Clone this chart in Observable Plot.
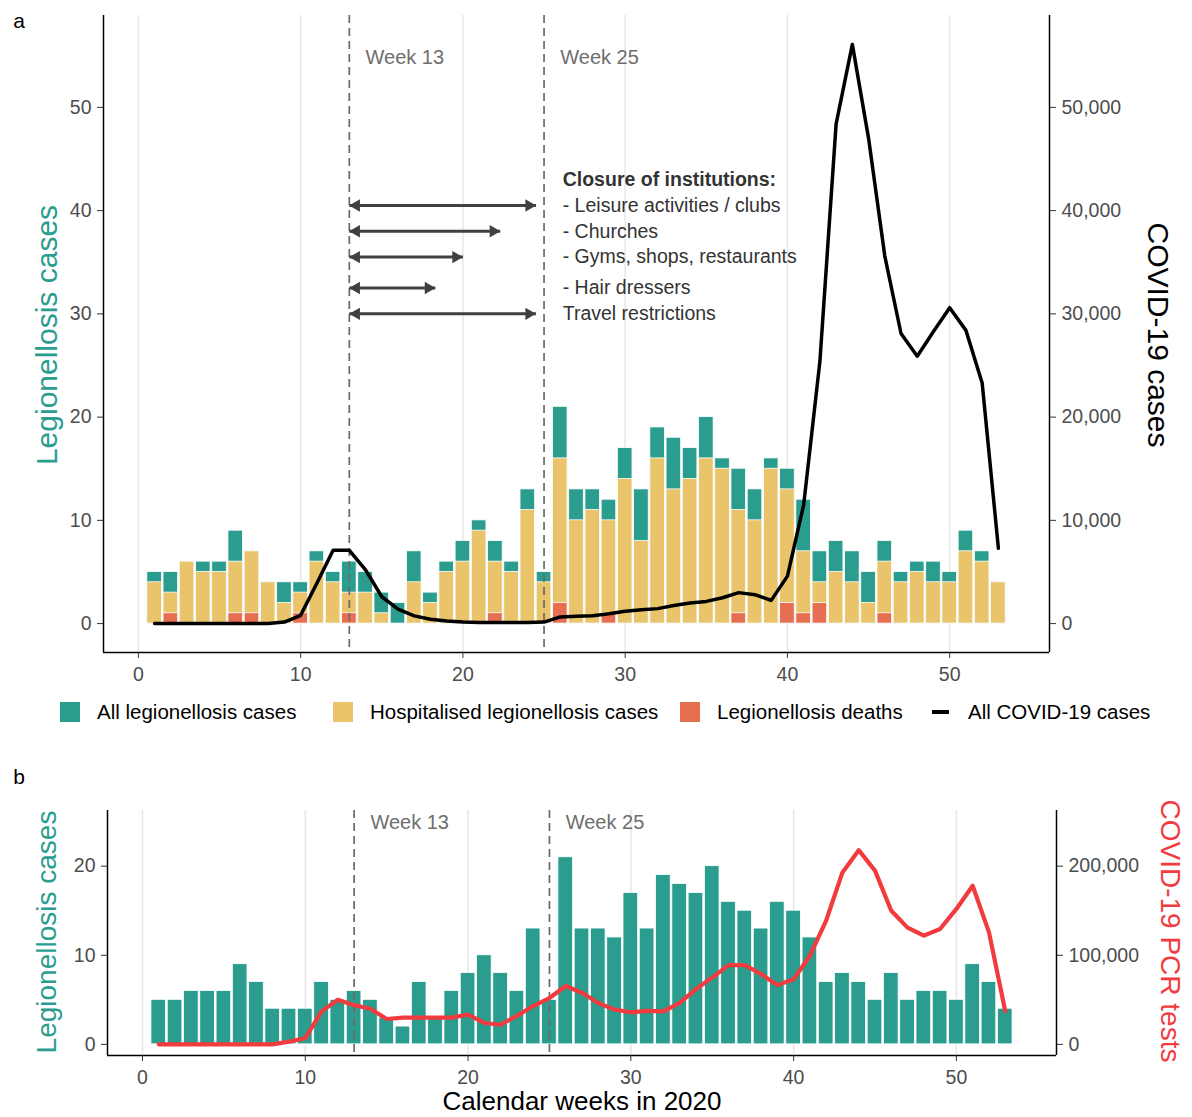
<!DOCTYPE html>
<html>
<head>
<meta charset="utf-8">
<script src="https://cdn.jsdelivr.net/npm/d3@7"></script>
<script src="https://cdn.jsdelivr.net/npm/@observablehq/plot@0.6"></script>
<style>
  body { margin: 0; background: #fff; font-family: "Liberation Sans", Arial, sans-serif; }
  #root { position: relative; width: 1192px; height: 1117px; overflow: hidden; background: #fff; }
  .abs { position: absolute; white-space: nowrap; line-height: 1; }
  .sq { position: absolute; width: 20px; height: 20px; }
</style>
</head>
<body>
<div id="root"></div>
<script>
// ---------------- data ----------------
const weeks = d3.range(1, 54);
const allCases = [5,5,6,6,6,9,7,4,4,4,7,5,6,5,3,2,7,3,6,8,10,8,6,13,5,21,13,13,12,17,13,19,18,17,20,16,15,13,16,15,12,7,8,7,5,8,5,6,6,5,9,7,4];
const hospitalised = [4,3,6,5,5,6,7,4,2,3,6,4,3,3,1,0,4,2,5,6,9,6,5,11,4,16,10,11,10,14,8,16,13,14,16,15,11,10,15,13,7,4,5,4,2,6,4,5,4,4,7,6,4];
const deaths = [0,1,0,0,0,1,1,0,0,1,0,0,1,0,0,0,0,0,0,0,0,1,0,0,0,2,0,0,1,0,0,0,0,0,0,0,1,0,0,2,1,2,0,0,0,1,0,0,0,0,0,0,0];
const covidCases = [0,0,0,0,0,0,0,0,150,800,3900,7100,7100,5200,2600,1400,750,420,250,150,100,100,100,100,150,650,700,750,950,1200,1350,1450,1750,2000,2150,2500,3000,2800,2250,4600,11500,25400,48400,56100,47000,35600,28100,25900,28300,30600,28400,23300,7300];
const pcrTests = [0,0,0,0,0,0,0,0,3000,7000,37000,50000,44000,40000,28500,30000,30000,30000,30000,33500,24000,22000,32000,43000,52000,65500,58000,46500,39000,36000,37500,37000,46500,62000,75000,89000,89000,79000,66500,73000,99500,139000,193000,218000,195000,150000,131000,122000,129500,152000,178000,126000,37500];
const interventionWeeks = [13, 25];
const closureTitle = "Closure of institutions:";
const measures = ["- Leisure activities / clubs", "- Churches", "- Gyms, shops, restaurants", "- Hair dressers", "Travel restrictions"];
const measureEndWeek = [24.5, 22.3, 20, 18.3, 24.5];
const xTicks = [0, 10, 20, 30, 40, 50];
const yTicksA = [0, 10, 20, 30, 40, 50];
const yTicksB = [0, 10, 20];
const legendLabels = ["All legionellosis cases", "Hospitalised legionellosis cases", "Legionellosis deaths", "All COVID-19 cases"];

// ---------------- styling ----------------
const teal = "#2a9d8f", yellow = "#e9c46a", red = "#e76f51", pcrRed = "#f23b3f";
const FONT = '"Liberation Sans", Arial, sans-serif';
const covidPerUnit = 1000, pcrPerUnit = 10000;

const rows = weeks.map((w, i) => ({
  week: w, all: allCases[i], hosp: hospitalised[i], deaths: deaths[i],
  covid: covidCases[i], pcr: pcrTests[i]
}));

const xDomain = [-2.15, 56.15];
const yDomainA = [-2.8, 58.9];
const yDomainB = [-1.25, 26.25];

function bar(data, key, fill) {
  return Plot.rect(data.filter(d => d[key] > 0), {
    x1: d => d.week - 0.45, x2: d => d.week + 0.45,
    y1: d => 0, y2: key, fill, stroke: "white", strokeWidth: 0.8
  });
}

function frameMarks(xd, yd) {
  return [
    Plot.ruleX([xd[0]], {stroke: "#000", strokeWidth: 1.5}),
    Plot.ruleX([xd[1]], {stroke: "#000", strokeWidth: 1.5}),
    Plot.ruleY([yd[0]], {stroke: "#000", strokeWidth: 1.5})
  ];
}

const axisStyle = {tickSize: 6, tickPadding: 6, fontSize: 19.5, stroke: "#333", fill: "#4d4d4d", label: null};
const dashStyle = {stroke: "#6a6a6a", strokeWidth: 1.7, strokeDasharray: "8,5"};

// annotation y positions (layout)
const annotY = [40.5, 38, 35.5, 32.5, 30];
const arrowRows = measures.map((m, i) => ({start: interventionWeeks[0], end: measureEndWeek[i], y: annotY[i], label: m}));

const plotA = Plot.plot({
  width: 1192, height: 692,
  marginLeft: 103, marginRight: 143, marginTop: 15, marginBottom: 40,
  x: {domain: xDomain},
  y: {domain: yDomainA},
  style: {fontFamily: FONT, background: "transparent", overflow: "visible"},
  marks: [
    Plot.ruleX(xTicks, {stroke: "#e6e6e6", strokeWidth: 1.5}),
    bar(rows, "all", teal),
    bar(rows, "hosp", yellow),
    bar(rows, "deaths", red),
    Plot.ruleX(interventionWeeks, dashStyle),
    Plot.line(rows, {x: "week", y: d => d.covid / covidPerUnit, stroke: "#000", strokeWidth: 3.5}),
    Plot.text(interventionWeeks, {x: d => d + 1, y: d => 54.8, text: d => `Week ${d}`, textAnchor: "start", fill: "#6e6e6e", fontSize: 20}),
    Plot.link(arrowRows, {x1: "start", x2: "end", y1: "y", y2: "y", stroke: "#404040", strokeWidth: 3}),
    Plot.dot(arrowRows, {x: "end", y: "y", symbol: "triangle", rotate: 90, r: 4.6, fill: "#404040", stroke: "none", dx: -7}),
    Plot.dot(arrowRows, {x: "start", y: "y", symbol: "triangle", rotate: -90, r: 4.6, fill: "#404040", stroke: "none", dx: 7}),
    Plot.text([closureTitle], {x: d => 26.15, y: d => 43, text: d => d, textAnchor: "start", fontWeight: "bold", fill: "#333", fontSize: 19.5}),
    Plot.text(arrowRows, {x: d => 26.15, y: "y", text: "label", textAnchor: "start", fill: "#333", fontSize: 19.5}),
    ...frameMarks(xDomain, yDomainA),
    Plot.axisX({ticks: xTicks, ...axisStyle, tickPadding: 9}),
    Plot.axisY({ticks: yTicksA, ...axisStyle}),
    Plot.axisY({ticks: yTicksA, anchor: "right", ...axisStyle, tickFormat: d => d3.format(",")(d * covidPerUnit)})
  ]
});

const plotB = Plot.plot({
  width: 1192, height: 335,
  marginLeft: 107, marginRight: 136, marginTop: 50, marginBottom: 40,
  x: {domain: xDomain},
  y: {domain: yDomainB},
  style: {fontFamily: FONT, background: "transparent", overflow: "visible"},
  marks: [
    Plot.ruleX(xTicks, {stroke: "#e6e6e6", strokeWidth: 1.5}),
    bar(rows, "all", teal),
    Plot.ruleX(interventionWeeks, dashStyle),
    Plot.line(rows, {x: "week", y: d => d.pcr / pcrPerUnit, stroke: pcrRed, strokeWidth: 4.2}),
    Plot.text(interventionWeeks, {x: d => d + 1, y: d => 24.9, text: d => `Week ${d}`, textAnchor: "start", fill: "#6e6e6e", fontSize: 20}),
    ...frameMarks(xDomain, yDomainB),
    Plot.axisX({ticks: xTicks, ...axisStyle, tickPadding: 9}),
    Plot.axisY({ticks: yTicksB, ...axisStyle}),
    Plot.axisY({ticks: yTicksB, anchor: "right", ...axisStyle, tickFormat: d => d3.format(",")(d * pcrPerUnit)})
  ]
});

// ---------------- layout ----------------
const root = document.getElementById("root");
function place(el, left, top) {
  el.style.position = "absolute"; el.style.left = left + "px"; el.style.top = top + "px";
  root.appendChild(el);
}
place(plotA, 0, 0);
place(plotB, 0, 760);

function label(text, cx, cy, size, color, rot) {
  const d = document.createElement("div");
  d.className = "abs";
  d.textContent = text;
  d.style.left = cx + "px"; d.style.top = cy + "px";
  d.style.fontSize = size + "px"; d.style.color = color;
  d.style.transform = `translate(-50%, -50%) rotate(${rot || 0}deg)`;
  root.appendChild(d);
  return d;
}
function leftLabel(text, x, cy, size, color) {
  const d = document.createElement("div");
  d.className = "abs";
  d.textContent = text;
  d.style.left = x + "px"; d.style.top = (cy - size / 2) + "px";
  d.style.fontSize = size + "px"; d.style.color = color;
  root.appendChild(d);
  return d;
}

// panel tags
label("a", 19, 20, 21, "#000");
label("b", 19, 776, 21, "#000");

// axis titles
label("Legionellosis cases", 47, 335, 30, teal, -90);
label("COVID-19 cases", 1158, 335, 30, "#000", 90);
label("Legionellosis cases", 47, 932, 28, teal, -90);
label("COVID-19 PCR tests", 1170, 931, 28, pcrRed, 90);
label("Calendar weeks in 2020", 582, 1101, 26, "#000");

// legend
const legendSwatches = [
  {x: 60, color: teal, textX: 97},
  {x: 333, color: yellow, textX: 370},
  {x: 680, color: red, textX: 717},
  {x: 932, color: "#000", textX: 968, line: true}
];
legendSwatches.forEach((s, i) => {
  const sw = document.createElement("div");
  if (s.line) {
    sw.style.position = "absolute";
    sw.style.left = s.x + "px"; sw.style.top = "710px";
    sw.style.width = "17px"; sw.style.height = "4px"; sw.style.background = s.color;
    root.appendChild(sw);
  } else {
    sw.className = "sq";
    sw.style.left = s.x + "px"; sw.style.top = "702px";
    sw.style.background = s.color;
    root.appendChild(sw);
  }
  leftLabel(legendLabels[i], s.textX, 712, 20.5, "#000");
});
</script>
</body>
</html>
